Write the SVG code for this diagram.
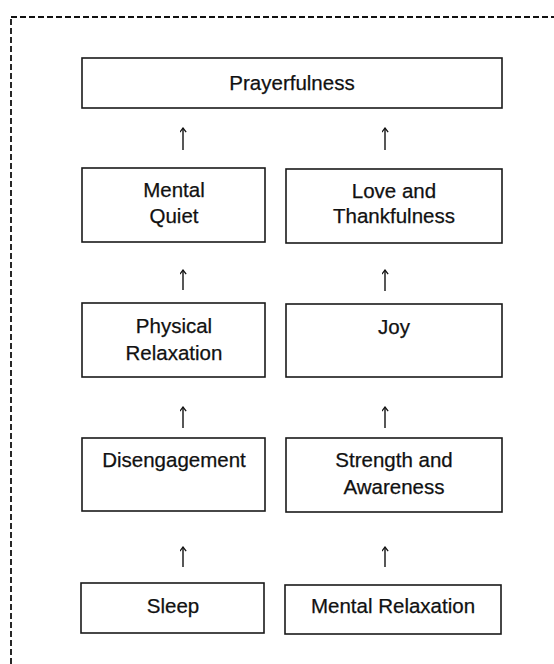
<svg xmlns="http://www.w3.org/2000/svg" width="554" height="664" viewBox="0 0 554 664">
  <style>
    .frame { fill: none; stroke: #111; stroke-width: 1.8; stroke-dasharray: 6 3; }
    .box { fill: #fff; stroke: #1a1a1a; stroke-width: 1.6; }
    .label { font-family: "Liberation Sans", Arial, sans-serif; font-size: 20.5px; fill: #111; stroke: #111; stroke-width: 0.25; text-anchor: middle; }
    .link { fill: none; stroke: #111; stroke-width: 1.4; marker-end: url(#head); }
  </style>
  <defs>
    <!-- open V head, drawn along +x so orient="auto" points it up the line -->
    <marker id="head" viewBox="0 0 10 10" refX="9" refY="5" markerWidth="7" markerHeight="7" markerUnits="userSpaceOnUse" orient="auto">
      <path d="M3,0.5 L9,5 L3,9.5" fill="none" stroke="#111" stroke-width="1.8"/>
    </marker>
  </defs>
  <rect width="554" height="664" fill="#fff"/>
  <!-- dashed outer frame, running off the right and bottom edges -->
  <rect class="frame" x="11" y="17" width="600" height="700"/>

  <g id="prayerfulness">
    <rect class="box" x="82" y="58" width="420" height="50"/>
    <text class="label" x="292" y="90">Prayerfulness</text>
  </g>
  <g id="mental-quiet">
    <rect class="box" x="82" y="168" width="183" height="74"/>
    <text class="label" x="174" y="197">Mental</text>
    <text class="label" x="174" y="223">Quiet</text>
  </g>
  <g id="love-thankfulness">
    <rect class="box" x="286" y="169" width="216" height="74"/>
    <text class="label" x="394" y="198">Love and</text>
    <text class="label" x="394" y="223">Thankfulness</text>
  </g>
  <g id="physical-relaxation">
    <rect class="box" x="82" y="303" width="183" height="74"/>
    <text class="label" x="174" y="333">Physical</text>
    <text class="label" x="174" y="360">Relaxation</text>
  </g>
  <g id="joy">
    <rect class="box" x="286" y="304" width="216" height="73"/>
    <text class="label" x="394" y="334">Joy</text>
  </g>
  <g id="disengagement">
    <rect class="box" x="82" y="438" width="183" height="73"/>
    <text class="label" x="174" y="467">Disengagement</text>
  </g>
  <g id="strength-awareness">
    <rect class="box" x="286" y="438" width="216" height="74"/>
    <text class="label" x="394" y="467">Strength and</text>
    <text class="label" x="394" y="494">Awareness</text>
  </g>
  <g id="sleep">
    <rect class="box" x="81" y="583" width="183" height="50"/>
    <text class="label" x="173" y="613">Sleep</text>
  </g>
  <g id="mental-relaxation">
    <rect class="box" x="285" y="585" width="216" height="49"/>
    <text class="label" x="393" y="613">Mental Relaxation</text>
  </g>

  <g id="connectors">
    <line class="link" x1="183" y1="150" x2="183" y2="128"/>
    <line class="link" x1="385" y1="150" x2="385" y2="128"/>
    <line class="link" x1="183" y1="290" x2="183" y2="270"/>
    <line class="link" x1="385" y1="291" x2="385" y2="270"/>
    <line class="link" x1="183" y1="428" x2="183" y2="407"/>
    <line class="link" x1="385" y1="428" x2="385" y2="407"/>
    <line class="link" x1="183" y1="567" x2="183" y2="547"/>
    <line class="link" x1="385" y1="567" x2="385" y2="547"/>
  </g>
</svg>
